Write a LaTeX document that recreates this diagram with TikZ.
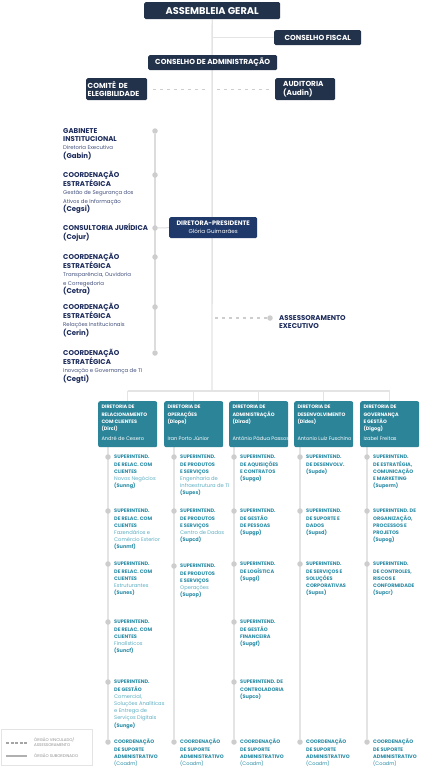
\documentclass[tikz,border=0pt]{standalone}
\usepackage{fontspec}
\setmainfont{Poppins}
\usetikzlibrary{backgrounds}

\definecolor{navy}{HTML}{22324B}
\definecolor{presblue}{HTML}{1F3A6A}
\definecolor{navytext}{HTML}{1C2B5B}
\definecolor{navysub}{HTML}{44527E}
\definecolor{tealbox}{HTML}{2C8499}
\definecolor{tealtext}{HTML}{2A8CA5}
\definecolor{tealsub}{HTML}{5DAEC2}
\definecolor{linegray}{HTML}{E4E4E4}
\definecolor{staffgray}{HTML}{DCDCDC}
\definecolor{dotgray}{HTML}{CDCDCD}
\definecolor{legendgray}{HTML}{8E8E8E}

\newcommand{\smalltxt}[1]{{\mdseries\fontsize{5.4}{8}\selectfont\color{navysub}#1}}
\newcommand{\subtxt}[1]{{\mdseries\fontsize{5.2}{7}\selectfont\color{tealsub}#1}}
% lines stacked from the first baseline down
\newcommand{\stack}[1]{\begin{tabular}[t]{@{}l@{}}#1\end{tabular}}

\begin{document}
\begin{tikzpicture}[x=1pt,y=-1pt,
    topbox/.style={fill=navy, rounded corners=1.5pt, text=white, inner sep=0pt, anchor=north west,
      font=\bfseries\fontsize{7.3}{8.2}\selectfont},
    presbox/.style={fill=presblue, rounded corners=1.5pt, text=white, inner sep=0pt, anchor=north west,
      align=center, font=\bfseries\fontsize{6.4}{8}\selectfont},
    dirbox/.style={fill=tealbox, rounded corners=2pt, inner sep=0pt, anchor=north west,
      minimum width=59pt, minimum height=46pt},
    dirtitle/.style={anchor=base west, inner sep=0pt, text=white,
      font=\bfseries\fontsize{4.9}{7.2}\selectfont},
    dirname/.style={anchor=base west, inner sep=0pt, text=white, font=\fontsize{5.1}{6}\selectfont},
    stafftxt/.style={anchor=base west, inner sep=0pt, text=navytext,
      font=\bfseries\fontsize{7}{8.2}\selectfont},
    supt/.style={anchor=base west, inner sep=0pt, text=tealtext,
      font=\bfseries\fontsize{5}{7.2}\selectfont},
    legtxt/.style={anchor=base west, inner sep=0pt, text=legendgray,
      font=\fontsize{4}{5.2}\selectfont},
    orgdot/.style={circle, fill=dotgray, inner sep=0pt, minimum size=5.5pt},
    spine/.style={draw=linegray, line width=1.4pt},
    staffline/.style={draw=staffgray, line width=2.2pt},
    colline/.style={draw=linegray, line width=1.8pt},
    dashline/.style={draw=dotgray, line width=1.2pt, dash pattern=on 3pt off 4pt},
  ]

  % councils
  \node[topbox, minimum width=136pt, minimum height=17pt, font=\bfseries\fontsize{9.8}{10}\selectfont]
    (ag) at (144,2) {ASSEMBLEIA GERAL};
  \node[topbox, minimum width=87pt, minimum height=15pt] (cf) at (274,30) {CONSELHO FISCAL};
  \node[topbox, minimum width=129pt, minimum height=15pt] (ca) at (148,55) {CONSELHO DE ADMINISTRAÇÃO};
  \node[topbox, minimum width=61pt, minimum height=22pt, align=left, text width=58pt]
    (ce) at (86,78) {COMITÊ DE\\ELEGIBILIDADE};
  \node[topbox, minimum width=60pt, minimum height=22pt, align=left, text width=44pt]
    (au) at (275,78) {AUDITORIA\\(Audin)};
  \coordinate (bus) at (212,391);

  % staff units
  \foreach \i/\y/\body in {
      gabin/131/{GABINETE\\INSTITUCIONAL\\\smalltxt{Diretoria Executiva}\\(Gabin)},
      cegsi/175/{COORDENAÇÃO\\ESTRATÉGICA\\\smalltxt{Gestão de Segurança dos}\\\smalltxt{Ativos de Informação}\\(Cegsi)},
      cojur/228/{CONSULTORIA JURÍDICA\\(Cojur)},
      cetra/257/{COORDENAÇÃO\\ESTRATÉGICA\\\smalltxt{Transparência, Ouvidoria}\\\smalltxt{e Corregedoria}\\(Cetra)},
      cerin/307/{COORDENAÇÃO\\ESTRATÉGICA\\\smalltxt{Relações Institucionais}\\(Cerin)},
      cegti/353/{COORDENAÇÃO\\ESTRATÉGICA\\\smalltxt{Inovação e Governança de TI}\\(Cegti)}}
  {
    \node[orgdot] (\i-dot) at (155,\y) {};
    \node[stafftxt] (\i) at (63,\y+2.4) {\stack{\body}};
  }

  % presidency
  \node[presbox, minimum width=88pt, minimum height=21pt] (dp) at (169,217)
    {DIRETORA-PRESIDENTE\\{\mdseries\fontsize{5.6}{6}\selectfont Glória Guimarães}};
  \node[orgdot] (ae-dot) at (270,318) {};
  \node[stafftxt] (ae) at (279,320.4) {\stack{ASSESSORAMENTO\\EXECUTIVO}};

  % directorates
  \foreach \k/\xb/\title/\who in {
      1/98/{DIRETORIA DE\\RELACIONAMENTO\\COM CLIENTES\\(Dircl)}/André de Cesero,
      2/164/{DIRETORIA DE\\OPERAÇÕES\\(Diope)}/Iran Porto Júnior,
      3/229/{DIRETORIA DE\\ADMINISTRAÇÃO\\(Dirad)}/Antônio Pádua Passos,
      4/294/{DIRETORIA DE\\DESENVOLVIMENTO\\(Dides)}/Antonio Luiz Fuschino,
      5/360/{DIRETORIA DE\\GOVERNANÇA\\E GESTÃO\\(Digog)}/Izabel Freitas}
  {
    \node[dirbox] (d\k) at (\xb,401) {};
    \node[dirtitle] (d\k-title) at ([xshift=3.3pt, yshift=-7.8pt]d\k.north west) {\stack{\title}};
    \node[dirname] (d\k-name) at ([xshift=3.3pt, yshift=-39pt]d\k.north west) {\who};
  }

  % superintendencies, Dircl
  \foreach \j/\y/\body in {
      1/457/{SUPERINTEND.\\DE RELAC. COM\\CLIENTES\\\subtxt{Novos Negócios}\\(Sunng)},
      2/511/{SUPERINTEND.\\DE RELAC. COM\\CLIENTES\\\subtxt{Fazendários e}\\\subtxt{Comércio Exterior}\\(Sunmf)},
      3/564/{SUPERINTEND.\\DE RELAC. COM\\CLIENTES\\\subtxt{Estruturantes}\\(Sunes)},
      4/622/{SUPERINTEND.\\DE RELAC. COM\\CLIENTES\\\subtxt{Finalísticos}\\(Suncf)},
      5/682/{SUPERINTEND.\\DE GESTÃO\\\subtxt{Comercial,}\\\subtxt{Soluções Analíticas}\\\subtxt{e Entrega de}\\\subtxt{Serviços Digitais}\\(Sunge)},
      6/742/{COORDENAÇÃO\\DE SUPORTE\\ADMINISTRATIVO\\{\mdseries(Coadm)}}}
  {
    \node[orgdot] (k1-\j) at (108,\y) {};
    \node[supt] (t1-\j) at (114,\y+1.8) {\stack{\body}};
  }

  % superintendencies, Diope
  \foreach \j/\y/\body in {
      1/457/{SUPERINTEND.\\DE PRODUTOS\\E SERVIÇOS\\\subtxt{Engenharia de}\\\subtxt{Infraestrutura de TI}\\(Supes)},
      2/511/{SUPERINTEND.\\DE PRODUTOS\\E SERVIÇOS\\\subtxt{Centro de Dados}\\(Supcd)},
      3/566/{SUPERINTEND.\\DE PRODUTOS\\E SERVIÇOS\\\subtxt{Operações}\\(Supop)},
      4/742/{COORDENAÇÃO\\DE SUPORTE\\ADMINISTRATIVO\\{\mdseries(Coadm)}}}
  {
    \node[orgdot] (k2-\j) at (174,\y) {};
    \node[supt] (t2-\j) at (180,\y+1.8) {\stack{\body}};
  }

  % superintendencies, Dirad
  \foreach \j/\y/\body in {
      1/457/{SUPERINTEND.\\DE AQUISIÇÕES\\E CONTRATOS\\(Supga)},
      2/511/{SUPERINTEND.\\DE GESTÃO\\DE PESSOAS\\(Supgp)},
      3/564/{SUPERINTEND.\\DE LOGÍSTICA\\(Supgl)},
      4/622/{SUPERINTEND.\\DE GESTÃO\\FINANCEIRA\\(Supgf)},
      5/682/{SUPERINTEND. DE\\CONTROLADORIA\\(Supco)},
      6/742/{COORDENAÇÃO\\DE SUPORTE\\ADMINISTRATIVO\\{\mdseries(Coadm)}}}
  {
    \node[orgdot] (k3-\j) at (234,\y) {};
    \node[supt] (t3-\j) at (240,\y+1.8) {\stack{\body}};
  }

  % superintendencies, Dides
  \foreach \j/\y/\body in {
      1/457/{SUPERINTEND.\\DE DESENVOLV.\\(Supde)},
      2/511/{SUPERINTEND.\\DE SUPORTE E\\DADOS\\(Supsd)},
      3/564/{SUPERINTEND.\\DE SERVIÇOS E\\SOLUÇÕES\\CORPORATIVAS\\(Supss)},
      4/742/{COORDENAÇÃO\\DE SUPORTE\\ADMINISTRATIVO\\{\mdseries(Coadm)}}}
  {
    \node[orgdot] (k4-\j) at (300,\y) {};
    \node[supt] (t4-\j) at (306,\y+1.8) {\stack{\body}};
  }

  % superintendencies, Digog
  \foreach \j/\y/\body in {
      1/457/{SUPERINTEND.\\DE ESTRATÉGIA,\\COMUNICAÇÃO\\E MARKETING\\(Superm)},
      2/511/{SUPERINTEND. DE\\ORGANIZAÇÃO,\\PROCESSOS E\\PROJETOS\\(Supog)},
      3/564/{SUPERINTEND.\\DE CONTROLES,\\RISCOS E\\CONFORMIDADE\\(Supcr)},
      4/742/{COORDENAÇÃO\\DE SUPORTE\\ADMINISTRATIVO\\{\mdseries(Coadm)}}}
  {
    \node[orgdot] (k5-\j) at (367,\y) {};
    \node[supt] (t5-\j) at (373,\y+1.8) {\stack{\body}};
  }

  % legend
  \node[draw=linegray, line width=0.6pt, anchor=north west, minimum width=91pt, minimum height=36pt,
    inner sep=0pt] (legend) at (1,729) {};
  \coordinate (legdash) at ([xshift=5pt, yshift=-14pt]legend.north west);
  \coordinate (legsolid) at ([xshift=5pt, yshift=-27pt]legend.north west);
  \draw[draw=legendgray!80, line width=1.2pt, dash pattern=on 3pt off 1.5pt] (legdash) -- ++(21,0);
  \draw[draw=legendgray!70, line width=1.2pt] (legsolid) -- ++(21,0);
  \node[legtxt] (legvinc) at (34,741.3) {\stack{ÓRGÃO VINCULADO/\\ASSESSORAMENTO}};
  \node[legtxt] (legsub) at (34,757.4) {ÓRGÃO SUBORDINADO};

  % connectors
  \begin{scope}[on background layer]
    \path[use as bounding box, fill=white] (0,0) rectangle (425,768);
    \draw[spine] (ag.south) -- (bus);
    \draw[spine] (ag.south |- cf.west) -- (cf.west);
    \draw[dashline, shorten <=6pt, shorten >=5pt] (ce.east) -- (ce.east -| ag.south);
    \draw[dashline, shorten <=5pt, shorten >=5pt] (au.west -| ag.south) -- (au.west);
    \draw[dashline, shorten <=3pt] (ae-dot -| ag.south) -- (ae-dot);
    \draw[staffline] (gabin-dot) -- (cegti-dot);
    \draw[staffline, line width=1pt] (cojur-dot) -- (dp.west);
    \draw[spine] (d1.north |- bus) -- (d5.north |- bus);
    \foreach \k in {1,...,5}
      \draw[spine] (d\k.north |- bus) -- (d\k.north);
    \draw[colline] (d1.south -| k1-1) -- (k1-6);
    \draw[colline] (d2.south -| k2-1) -- (k2-4);
    \draw[colline] (d3.south -| k3-1) -- (k3-6);
    \draw[colline] (d4.south -| k4-1) -- (k4-4);
    \draw[colline] (d5.south -| k5-1) -- (k5-4);
  \end{scope}
\end{tikzpicture}
\end{document}
